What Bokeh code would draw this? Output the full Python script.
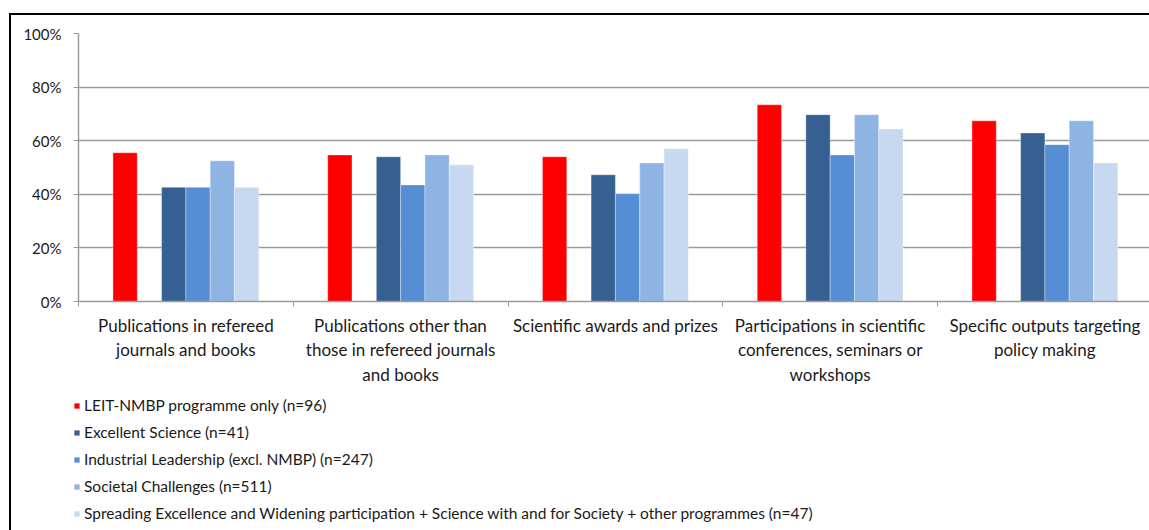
import numpy as np
from bokeh.plotting import figure
from bokeh.layouts import column
from bokeh.models import Range1d, FixedTicker, PrintfTickFormatter, Legend, LegendItem, ColumnDataSource
from bokeh.embed import file_html
from bokeh.resources import INLINE

# ---- data ----
categories = [
    "Publications in refereed\njournals and books",
    "Publications other than\nthose in refereed journals\nand books",
    "Scientific awards and prizes",
    "Participations in scientific\nconferences, seminars or\nworkshops",
    "Specific outputs targeting\npolicy making",
]
series_names = [
    "LEIT-NMBP programme only (n=96)",
    "Excellent Science (n=41)",
    "Industrial Leadership (excl. NMBP) (n=247)",
    "Societal Challenges (n=511)",
    "Spreading Excellence and Widening participation + Science with and for Society + other programmes (n=47)",
]
leit = [55.5, 54.7, 54.0, 73.4, 67.4]
excellent = [42.6, 54.0, 47.3, 69.7, 62.9]
industrial = [42.6, 43.5, 40.2, 54.7, 58.5]
societal = [52.5, 54.7, 51.7, 69.7, 67.4]
spreading = [42.6, 51.0, 57.0, 64.4, 51.7]
y_ticks = [0, 20, 40, 60, 80, 100]

series_values = [leit, excellent, industrial, societal, spreading]
colors = ["#FF0000", "#376092", "#558ED5", "#8EB4E3", "#C6D9F1"]
slots = [0, 2, 3, 4, 5]  # slot 1 is an empty series in the original
bar_w = 0.1132
FONT = "Lato"
TXT = "#1a1a1a"
GRID = "#9a9a9a"

p = figure(width=1138, height=376, output_backend="svg", toolbar_location=None,
           x_range=Range1d(0, 4.987), y_range=Range1d(0, 100),
           min_border_left=67, min_border_right=0, min_border_top=18, min_border_bottom=90)
p.outline_line_color = None
p.border_fill_color = "white"

centers = np.arange(len(categories)) + 0.5
sources = []
for vals, col, slot in zip(series_values, colors, slots):
    src = ColumnDataSource(dict(x=centers + (slot - 2.5) * bar_w, top=vals))
    sources.append(src)
    p.vbar(x="x", top="top", width=bar_w, bottom=0, source=src,
           fill_color=col, line_color="white", line_alpha=0.35, line_width=1)

# y axis
p.yaxis.ticker = FixedTicker(ticks=y_ticks)
p.yaxis.formatter = PrintfTickFormatter(format="%d%%")
p.yaxis.axis_line_color = GRID
p.yaxis.axis_line_width = 1.5
p.yaxis.major_tick_line_color = GRID
p.yaxis.major_tick_out = 5
p.yaxis.major_tick_in = 0
p.yaxis.minor_tick_line_color = None
p.yaxis.major_label_standoff = 12
p.yaxis.major_label_text_font = FONT
p.yaxis.major_label_text_font_size = "15px"
p.yaxis.major_label_text_color = TXT

# x axis
p.xaxis.ticker = FixedTicker(ticks=list(centers), minor_ticks=list(range(len(categories) + 1)))
p.xaxis.major_label_overrides = {float(c): lab for c, lab in zip(centers, categories)}
p.xaxis.axis_line_color = GRID
p.xaxis.axis_line_width = 1.5
p.xaxis.major_tick_line_color = None
p.xaxis.minor_tick_line_color = GRID
p.xaxis.minor_tick_out = 5
p.xaxis.minor_tick_in = 0
p.xaxis.major_label_standoff = 7
p.xaxis.major_label_text_font = FONT
p.xaxis.major_label_text_font_size = "17px"
p.xaxis.major_label_text_color = TXT
p.xaxis.major_label_text_line_height = 1.17

p.xgrid.grid_line_color = None
p.ygrid.grid_line_color = GRID
p.ygrid.grid_line_width = 1.5

# legend panel (separate figure below; hidden copies of the series supply the swatches)
p2 = figure(width=1138, height=139, output_backend="svg", toolbar_location=None,
            x_axis_type=None, y_axis_type=None,
            x_range=Range1d(0, 1), y_range=Range1d(0, 1),
            min_border_left=0, min_border_right=0, min_border_top=0, min_border_bottom=0)
p2.grid.visible = False
p2.outline_line_color = None
p2.border_fill_alpha = 0
p2.background_fill_alpha = 0
p2.styles = {"margin-left": "-5px"}
items = []
for name, col, src in zip(series_names, colors, sources):
    r = p2.vbar(x="x", top="top", width=bar_w, source=src, fill_color=col,
                line_color="white", line_alpha=0.35, visible=False)
    items.append(LegendItem(label=name, renderers=[r]))
legend = Legend(items=items, location=(0, 8), orientation="vertical",
                margin=0, padding=0, spacing=9, label_height=16,
                glyph_width=7, glyph_height=7, label_standoff=4,
                inactive_fill_alpha=0,
                label_text_font=FONT, label_text_font_size="15.5px", label_text_color=TXT,
                background_fill_alpha=0, border_line_color=None)
p2.add_layout(legend, "center")

layout = column(p, p2, spacing=0,
                styles={"border-left": "2px solid black", "border-top": "2px solid black",
                        "margin-left": "9px", "margin-top": "13px"})

open("out.html", "w").write(file_html(layout, INLINE))
